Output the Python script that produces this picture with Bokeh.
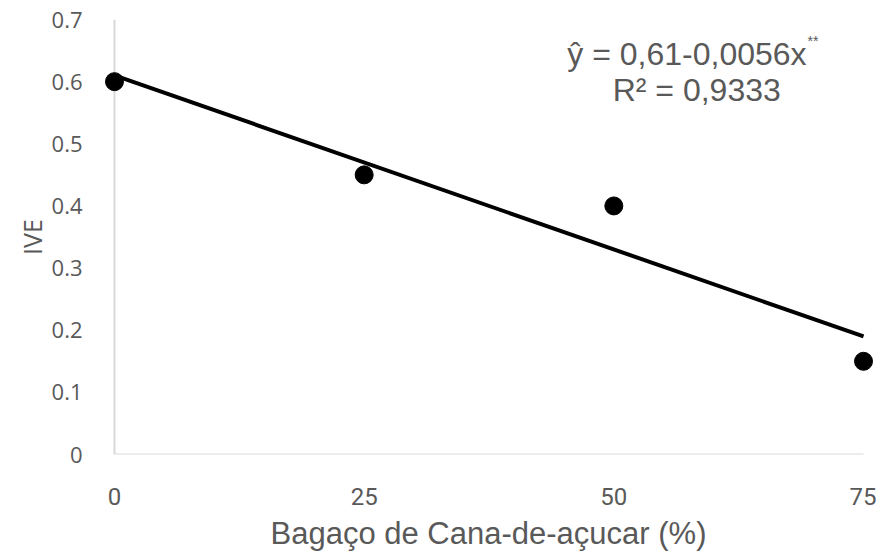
import numpy as np
from bokeh.plotting import figure
from bokeh.models import Range1d, Label, FixedTicker
from bokeh.embed import file_html
from bokeh.resources import INLINE

# data
bagaco = [0, 25, 50, 75]
ive = [0.60, 0.45, 0.40, 0.15]
x_ticks = [0, 25, 50, 75]
y_ticks = [0, 0.1, 0.2, 0.3, 0.4, 0.5, 0.6, 0.7]
y_tick_labels = ["0", "0.1", "0.2", "0.3", "0.4", "0.5", "0.6", "0.7"]
x_label = "Bagaço de Cana-de-açucar (%)"
y_label = "IVE"
eq_text = "ŷ = 0,61-0,0056x"
eq_sup = "**"
r2_text = "R² = 0,9333"

slope, intercept = np.polyfit(bagaco, ive, 1)
fit_x = [min(bagaco), max(bagaco)]
fit_y = [intercept + slope * v for v in fit_x]

GREY = "#595959"
AXIS = "#d9d9d9"

p = figure(width=876, height=557, output_backend="svg", toolbar_location=None,
           x_range=Range1d(-1.2, 76.1), y_range=Range1d(0, 0.7),
           min_border_left=102, min_border_right=2, min_border_top=19, min_border_bottom=103)
p.outline_line_color = None
p.grid.grid_line_color = None
p.background_fill_color = "white"

# axis lines
p.segment(x0=[min(x_ticks)], y0=[min(y_ticks)], x1=[max(x_ticks)], y1=[min(y_ticks)],
          line_color=AXIS, line_width=2)
p.segment(x0=[min(x_ticks)], y0=[min(y_ticks)], x1=[min(x_ticks)], y1=[max(y_ticks)],
          line_color=AXIS, line_width=2)

p.line(fit_x, fit_y, line_color="black", line_width=4)
p.scatter(bagaco, ive, size=18, color="black")

for ax in (p.xaxis[0], p.yaxis[0]):
    ax.axis_line_color = None
    ax.major_tick_line_color = None
    ax.minor_tick_line_color = None
    ax.major_label_text_color = GREY
    ax.axis_label_text_color = GREY
    ax.axis_label_text_font_style = "normal"

p.xaxis.ticker = FixedTicker(ticks=x_ticks)
p.xaxis.major_label_text_font = "Roboto"
p.xaxis.major_label_text_font_size = "24px"
p.xaxis.major_label_standoff = 27
p.xaxis.axis_label = x_label
p.xaxis.axis_label_text_font = "Liberation Sans"
p.xaxis.axis_label_text_font_size = "31px"
p.xaxis.axis_label_standoff = 8

p.yaxis.ticker = FixedTicker(ticks=y_ticks)
p.yaxis.major_label_overrides = {t: l for t, l in zip(y_ticks, y_tick_labels)}
p.yaxis.major_label_text_font = "Open Sans"
p.yaxis.major_label_text_font_size = "22px"
p.yaxis.major_label_standoff = 14
p.yaxis.axis_label = y_label
p.yaxis.axis_label_text_font = "Open Sans"
p.yaxis.axis_label_text_font_size = "25px"
p.yaxis.axis_label_standoff = 0

p.add_layout(Label(x=69.3, y=0.645, text=eq_text, text_align="right", text_baseline="alphabetic",
                   text_font="Liberation Sans", text_font_size="32px", text_color=GREY))
p.add_layout(Label(x=69.4, y=0.665, text=eq_sup, text_align="left", text_baseline="alphabetic",
                   text_font="Liberation Sans", text_font_size="14px", text_color=GREY))
p.add_layout(Label(x=58.3, y=0.587, text=r2_text, text_align="center", text_baseline="alphabetic",
                   text_font="Liberation Sans", text_font_size="32px", text_color=GREY))

open("out.html", "w").write(file_html(p, INLINE))
